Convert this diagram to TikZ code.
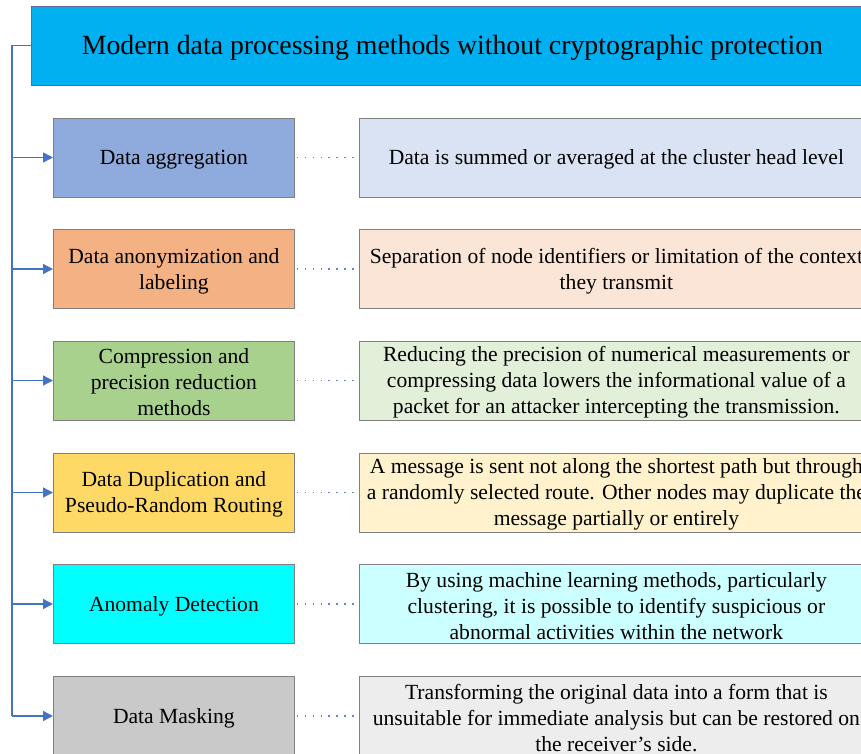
\documentclass[tikz,border=0pt]{standalone}
\usepackage{fontspec}
\setmainfont{Liberation Serif}
\usetikzlibrary{arrows.meta}
\definecolor{titlefill}{HTML}{00B0F0}
\definecolor{linkblue}{HTML}{4472C4}
\definecolor{fa}{HTML}{8FAADC}\definecolor{ra}{HTML}{DAE3F3}
\definecolor{fb}{HTML}{F4B183}\definecolor{rb}{HTML}{FBE5D6}
\definecolor{fc}{HTML}{A9D18E}\definecolor{rc}{HTML}{E2F0D9}
\definecolor{fd}{HTML}{FFD966}\definecolor{rd}{HTML}{FFF2CC}
\definecolor{fe}{HTML}{00FFFF}\definecolor{re}{HTML}{CCFFFF}
\definecolor{ff}{HTML}{C9C9C9}\definecolor{rf}{HTML}{EDEDED}
\tikzset{
  titlebox/.style={draw=gray!80!blue, line width=0.8pt, fill=titlefill, minimum width=842pt, minimum height=79pt, inner sep=0pt, anchor=west},
  titletxt/.style={font=\fontsize{27.8}{32}\selectfont, inner sep=0pt, yshift=-2pt},
  txt/.style={font=\fontsize{21.6}{26}\selectfont, align=center, inner sep=0pt, yshift=-2pt},
  leftbox/.style={draw=gray, line width=0.8pt, minimum width=241pt, minimum height=79pt, inner sep=0pt, anchor=west},
  rightbox/.style={draw=gray, line width=0.8pt, minimum width=514pt, minimum height=79pt, inner sep=0pt, anchor=west},
  arr/.style={draw=linkblue, line width=1.4pt, -{Triangle[length=10pt,width=10pt]}},
  dotlink/.style={draw=linkblue!85, line width=1.6pt, dash pattern=on 1.6pt off 6.3pt},
}
\begin{document}
\begin{tikzpicture}[x=1pt,y=-1pt]
\useasboundingbox (0,0) rectangle (861,753);
\clip (0,0) rectangle (861,753);
\node[titlebox, label={[titletxt]center:{Modern data processing methods without cryptographic protection}}] (title) at (31,45.5) {};
\node[leftbox, fill=fa, label={[txt]center:{Data aggregation}}] (l1) at (53,157.5) {};
\node[leftbox, fill=fb, label={[txt]center:{Data anonymization and\\labeling}}] (l2) at (53,269) {};
\node[leftbox, fill=fc, label={[txt]center:{Compression and\\precision reduction\\methods}}] (l3) at (53,380.5) {};
\node[leftbox, fill=fd, label={[txt]center:{Data Duplication and\\Pseudo-Random Routing}}] (l4) at (53,492.5) {};
\node[leftbox, fill=fe, label={[txt]center:{Anomaly Detection}}] (l5) at (53,604) {};
\node[leftbox, fill=ff, label={[txt]center:{Data Masking}}] (l6) at (53,716) {};
\node[rightbox, fill=ra, label={[txt]center:{Data is summed or averaged at the cluster head level}}] (r1) at (359,157.5) {};
\node[rightbox, fill=rb, label={[txt]center:{Separation of node identifiers or limitation of the context\\they transmit}}] (r2) at (359,269) {};
\node[rightbox, fill=rc, label={[txt]center:{Reducing the precision of numerical measurements or\\compressing data lowers the informational value of a\\packet for an attacker intercepting the transmission.}}] (r3) at (359,380.5) {};
\node[rightbox, fill=rd, label={[txt]center:{A message is sent not along the shortest path but through\\a randomly selected route. Other nodes may duplicate the\\message partially or entirely}}] (r4) at (359,492.5) {};
\node[rightbox, fill=re, label={[txt]center:{By using machine learning methods, particularly\\clustering, it is possible to identify suspicious or\\abnormal activities within the network}}] (r5) at (359,604) {};
\node[rightbox, fill=rf, label={[txt]center:{Transforming the original data into a form that is\\unsuitable for immediate analysis but can be restored on\\the receiver's side.}}] (r6) at (359,716) {};
\coordinate (top) at (12,45.5);
\draw[draw=linkblue, line width=1.4pt] (title.west) -- (top) -- (12,716);
\foreach \i in {1,...,6}{
  \draw[arr] (top |- l\i.west) -- (l\i.west);
  \draw[dotlink] ([xshift=2pt]l\i.east) -- (r\i.west);
}
\end{tikzpicture}
\end{document}
